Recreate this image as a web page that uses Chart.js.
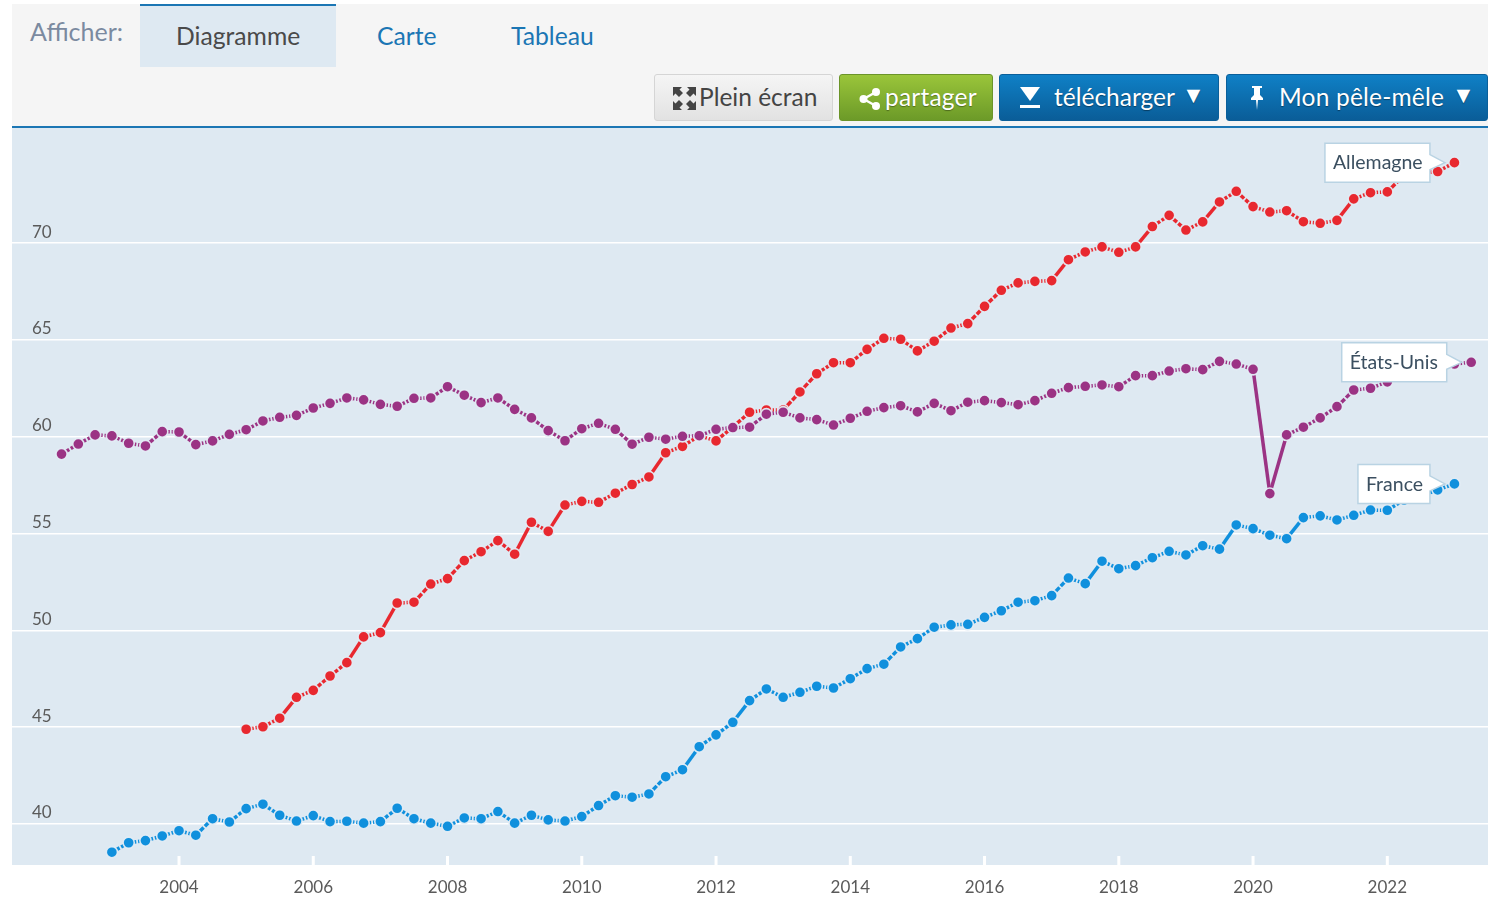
<!DOCTYPE html>
<html lang="fr"><head><meta charset="utf-8"><title>Diagramme</title>
<script src="https://cdn.jsdelivr.net/npm/chart.js@4"></script>
<style>
html,body{margin:0;padding:0;background:#fff;width:1488px;height:904px;overflow:hidden;font-family:Lato,"Open Sans",sans-serif}
#chart{position:absolute;left:0;top:0}
#head{position:absolute;left:12px;top:4px;width:1476px;height:122px;background:#f5f5f5;border-bottom:2px solid #1b76b4}
.t{position:absolute;white-space:nowrap;line-height:30px}
#tab{position:absolute;left:140px;top:4px;width:196px;height:61px;background:#dee9f2;border-top:2px solid #1b76b4}
.b{position:absolute;top:74px;height:45px;border-radius:3px;border:1px solid;line-height:45px;font-size:24.5px;white-space:nowrap;box-sizing:content-box}
.b span,.b svg{position:absolute}
.b span{top:-1px}
.blue{background:linear-gradient(#0f80c6,#0a5d98);border-color:#0a5f9a;color:#fff;text-shadow:0 1px 1px rgba(0,0,0,.4)}
</style></head><body>
<canvas id="chart" width="1488" height="904"></canvas>
<div id="head"></div>
<div id="tab"></div>
<div class="t" style="left:30px;top:16px;font-size:25px;color:#7b8aa0">Afficher:</div>
<div class="t" style="left:176px;top:21px;font-size:24.7px;color:#4a4a4a">Diagramme</div>
<div class="t" style="left:377px;top:21px;font-size:24.7px;color:#1b76b4">Carte</div>
<div class="t" style="left:511px;top:21px;font-size:24.7px;color:#1b76b4">Tableau</div>
<div class="b" style="left:654px;width:177px;background:linear-gradient(#f5f5f5,#e2e2e2);border-color:#d5d5d5;color:#444">
<svg style="left:17px;top:11px" width="25" height="25" viewBox="0 0 25 25" fill="#444"><path d="M1 1h9L7.500 3.500 11 7 7 11 3.500 7.500 1 10zM24 1v9l-2.500-2.500L18 11l-4-4 3.500-3.500L15 1zM1 24v-9l2.500 2.500L7 14l4 4-3.500 3.500L10 24zM24 24h-9l2.500-2.500L14 18l4-4 3.500 3.500L24 15z"/></svg>
<span style="left:44px">Plein écran</span></div>
<div class="b" style="left:839px;width:152px;background:linear-gradient(#9ac53a,#6c9a28);border-color:#6b9429;color:#fff;text-shadow:0 1px 1px rgba(0,0,0,.35)">
<svg style="left:19px;top:12px" width="22" height="24" viewBox="0 0 22 24" fill="#fff"><circle cx="4.500" cy="12" r="4"/><circle cx="17" cy="5" r="4"/><circle cx="17" cy="19" r="4"/><path d="M4.500 12 17 5M4.500 12 17 19" stroke="#fff" stroke-width="2.500"/></svg>
<span style="left:45px;letter-spacing:.2px">partager</span></div>
<div class="b blue" style="left:999px;width:218px">
<svg style="left:20px;top:12px" width="20" height="22" viewBox="0 0 20 22" fill="#fff"><path d="M0 0h20L10 14z"/><rect y="18" width="20" height="3"/></svg>
<span style="left:54px">télécharger</span><span style="left:182px;font-size:23px;top:-3px">▼</span></div>
<div class="b blue" style="left:1226px;width:260px">
<svg style="left:21px;top:10px" width="18" height="26" viewBox="0 0 18 26" fill="#fff"><path d="M4 1h10v2h-2v7l3 3v2H10l-1 10-1-10H3v-2l3-3V3H4z"/></svg>
<span style="left:52px;letter-spacing:.2px">Mon pêle-mêle</span><span style="left:225px;font-size:23px;top:-3px">▼</span></div>
<script>
// Values by quarter; each series starts at its own quarter
const startUS = 2002.25, startDE = 2005, startFR = 2003;
const etatsUnis = [59.1,59.62,60.09,60.04,59.66,59.52,60.26,60.24,59.59,59.78,60.12,60.36,60.81,61.0,61.1,61.48,61.72,62.0,61.9,61.67,61.57,61.98,62.0,62.58,62.14,61.76,62.0,61.41,60.97,60.31,59.79,60.41,60.69,60.38,59.61,59.97,59.87,60.02,60.05,60.38,60.47,60.49,61.16,61.26,60.97,60.88,60.6,60.95,61.31,61.5,61.6,61.28,61.72,61.34,61.78,61.86,61.76,61.65,61.86,62.24,62.53,62.6,62.67,62.58,63.15,63.15,63.39,63.51,63.46,63.89,63.75,63.48,57.06,60.09,60.49,60.97,61.55,62.41,62.5,62.83,63.19,63.44,63.65,63.75,63.84];
const allemagne = [44.89,45.02,45.46,46.54,46.9,47.64,48.33,49.66,49.88,51.41,51.45,52.39,52.67,53.6,54.06,54.63,53.93,55.58,55.11,56.47,56.66,56.61,57.08,57.53,57.92,59.17,59.5,60.04,59.78,60.5,61.26,61.38,61.38,62.31,63.25,63.82,63.82,64.51,65.08,65.03,64.43,64.93,65.61,65.84,66.73,67.56,67.94,68.02,68.06,69.14,69.54,69.8,69.52,69.8,70.85,71.43,70.67,71.09,72.12,72.67,71.88,71.6,71.67,71.1,71.02,71.17,72.28,72.6,72.64,73.51,73.62,73.69,74.15];
const france = [38.54,39.03,39.14,39.38,39.65,39.42,40.27,40.1,40.79,41.02,40.45,40.15,40.43,40.12,40.14,40.04,40.12,40.81,40.27,40.04,39.88,40.31,40.27,40.64,40.04,40.45,40.21,40.15,40.38,40.95,41.46,41.38,41.55,42.44,42.8,43.99,44.6,45.25,46.37,46.97,46.54,46.8,47.11,47.02,47.5,48.02,48.25,49.14,49.57,50.16,50.28,50.31,50.67,51.01,51.45,51.53,51.79,52.7,52.41,53.57,53.18,53.34,53.75,54.08,53.89,54.37,54.19,55.44,55.25,54.91,54.73,55.82,55.91,55.7,55.94,56.21,56.2,56.73,56.94,57.25,57.56];
const xTickYears = [2004,2006,2008,2010,2012,2014,2016,2018,2020,2022];
const yTickValues = [40,45,50,55,60,65,70];
const seriesNames = ['États-Unis','Allemagne','France'];
const seriesColors = ['#9b3384','#e8282f','#1090dd'];

const pts = (start, arr) => arr.map((v,i) => ({x:start + i/4, y:v}));
const HALO = 'rgba(228,237,245,.95)';
const segLen = c => Math.hypot(c.p1.x-c.p0.x, c.p1.y-c.p0.y);
const ds = (i,start,arr) => ({
  label: seriesNames[i], data: pts(start,arr), borderColor: seriesColors[i], backgroundColor: seriesColors[i],
  borderWidth: 3.5, tension: 0, pointRadius: 5.6, pointBorderWidth: 1.6, pointBorderColor: HALO, pointBackgroundColor: seriesColors[i],
  pointHoverRadius: 5.6, order: i,
  segment: {
    borderDash: c => { const d = segLen(c); return d < 25 ? [d/2-0.8, 1.8, 100, 1] : []; },
    borderDashOffset: c => c.p0DataIndex * 1e-5
  }
});

const callouts = {
  id:'callouts',
  afterDatasetsDraw(chart){
    const c = chart.ctx;
    const boxes = [[0,105,39],[1,105,39],[2,72,39]];
    boxes.forEach(([i,w,h]) => {
      const el = chart.getDatasetMeta(i).data.at(-1);
      const tip = el.x - 9.5, cy = el.y;
      const r = tip - 15, l = r - w, t = cy - 19.5, b = t + h;
      c.save();
      c.beginPath();
      c.moveTo(l,t); c.lineTo(r,t); c.lineTo(r,cy-8); c.lineTo(tip,cy); c.lineTo(r,cy+7); c.lineTo(r,b); c.lineTo(l,b); c.closePath();
      c.fillStyle='#fff'; c.fill();
      c.strokeStyle='#b9d3e3'; c.lineWidth=1.5; c.stroke();
      c.fillStyle='#3b4f60'; c.font='19.5px Lato, "Open Sans", sans-serif'; c.textAlign='left'; c.textBaseline='middle';
      c.fillText(seriesNames[i], l+8, cy+0.5);
      c.restore();
    });
  }
};
const plotBack = {
  id:'plotBack',
  beforeDraw(chart){
    const {ctx:c, chartArea:a} = chart;
    c.save(); c.fillStyle='#dee9f2'; c.fillRect(a.left,a.top,a.right-a.left,a.bottom-a.top); c.restore();
  },
  beforeDatasetsDraw(chart){
    const {ctx:c, chartArea:a, scales:{x}} = chart;
    c.save(); c.fillStyle='#fff';
    x.ticks.forEach(t => c.fillRect(x.getPixelForValue(t.value)-1.5, a.bottom-9, 3, 9));
    c.restore();
  }
};

new Chart(document.getElementById('chart'), {
  type:'line',
  data:{datasets:[ds(0,startUS,etatsUnis), ds(1,startDE,allemagne), ds(2,startFR,france)]},
  options:{
    responsive:false, animation:false,
    layout:{autoPadding:false,padding:{left:12,top:128,right:0,bottom:0}},
    plugins:{legend:{display:false},tooltip:{enabled:false},title:{display:false}},
    events:[],
    scales:{
      x:{type:'linear',min:2001.512,max:2023.5,
        afterBuildTicks:s=>{s.ticks=xTickYears.map(v=>({value:v}));},
        afterFit:s=>{s.height=39;s.paddingLeft=0;s.paddingRight=0;},
        grid:{display:false},border:{display:false},
        ticks:{callback:v=>String(v),autoSkip:false,maxRotation:0,minRotation:0,padding:4,color:'#5a5a5a',font:{family:'Lato',size:17}}},
      y:{type:'linear',min:37.88,max:75.94,
        afterBuildTicks:s=>{s.ticks=yTickValues.map(v=>({value:v}));},
        afterFit:s=>{s.width=0;s.paddingTop=0;s.paddingBottom=0;},
        grid:{color:'#fff',lineWidth:1.5,tickLength:0,drawTicks:false},border:{display:false},
        ticks:{mirror:true,padding:20,labelOffset:-11,color:'#5a5a5a',font:{family:'Lato',size:17},callback:v=>String(v)}}
    }
  },
  plugins:[plotBack,callouts]
});
</script>
</body></html>
